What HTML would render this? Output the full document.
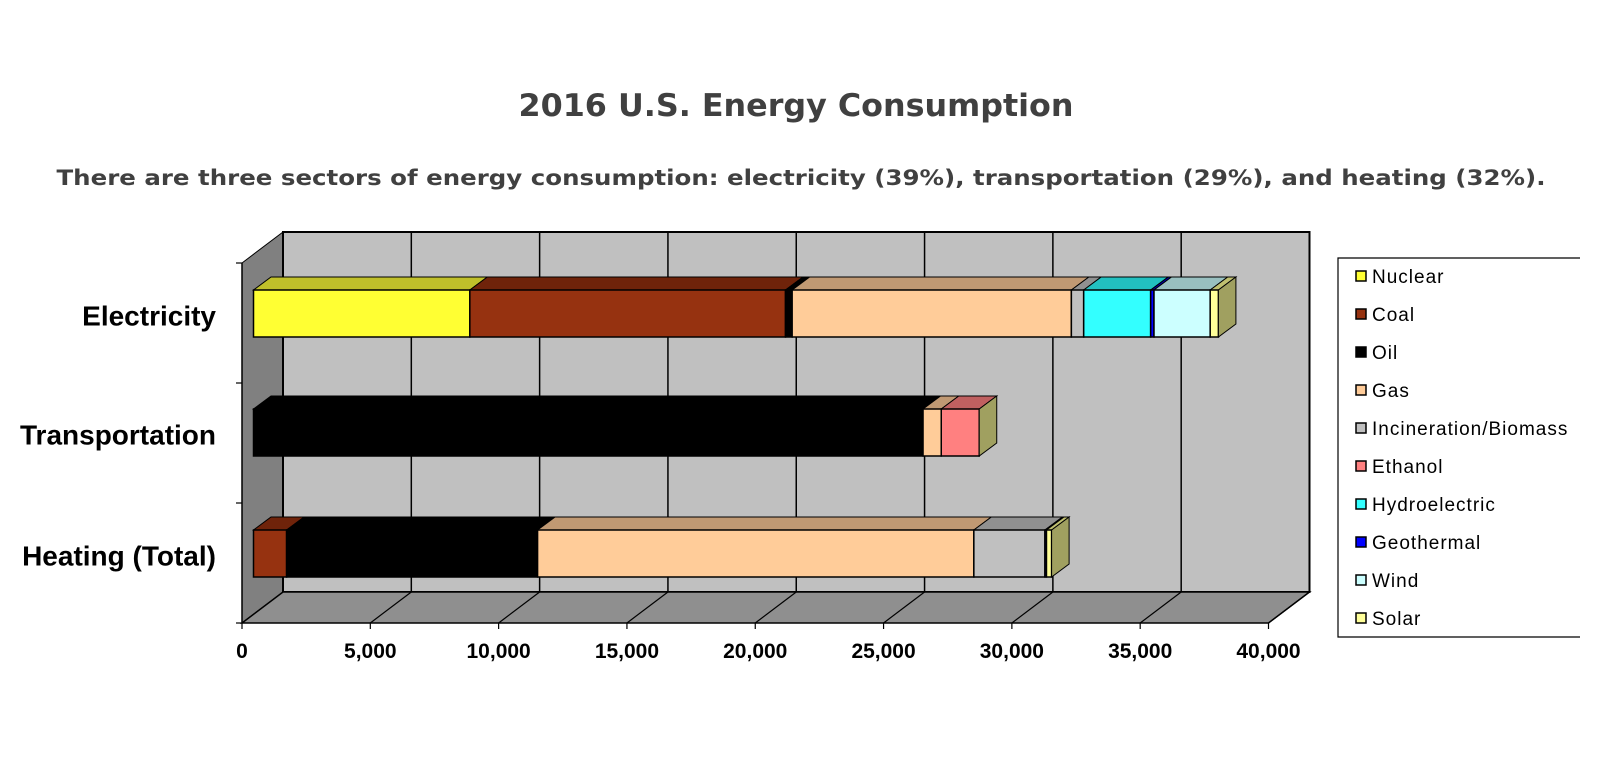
<!DOCTYPE html>
<html><head><meta charset="utf-8"><style>
html,body{margin:0;padding:0;background:#fff;}
svg{display:block;}
</style></head><body>
<svg id="chart" width="1610" height="784" xmlns="http://www.w3.org/2000/svg">
<text x="796" y="116" text-anchor="middle" font-family="DejaVu Sans, sans-serif" font-weight="bold" font-size="31" fill="#404040" textLength="555" lengthAdjust="spacingAndGlyphs">2016 U.S. Energy Consumption</text>
<text x="801" y="185" text-anchor="middle" font-family="DejaVu Sans, sans-serif" font-weight="bold" font-size="21" fill="#404040" textLength="1489" lengthAdjust="spacingAndGlyphs">There are three sectors of energy consumption: electricity (39%), transportation (29%), and heating (32%).</text>
<g id="plot"></g>
<g id="legend"></g>
</svg>
<script>
const categories = ["Electricity","Transportation","Heating (Total)"];
const seriesNames = ["Nuclear","Coal","Oil","Gas","Incineration/Biomass","Ethanol","Hydroelectric","Geothermal","Wind","Solar"];
const nuclear = [8430, 0, 0];
const coal = [12300, 0, 1290];
const oil = [260, 26090, 9780];
const gas = [10880, 710, 17000];
const biomass = [480, 0, 2770];
const ethanol = [0, 1480, 0];
const hydro = [2610, 0, 0];
const geothermal = [130, 0, 60];
const wind = [2190, 0, 0];
const solar = [320, 0, 200];
const xTicks = [0,5000,10000,15000,20000,25000,30000,35000,40000];
const xTickLabels = ["0","5,000","10,000","15,000","20,000","25,000","30,000","35,000","40,000"];

const series = [nuclear,coal,oil,gas,biomass,ethanol,hydro,geothermal,wind,solar];
const fronts = ["#ffff33","#963210","#000000","#ffcc99","#c0c0c0","#ff8080","#33ffff","#0000ff","#ccffff","#ffff99"];
const tops = ["#c0c02a","#6f230a","#000000","#c09973","#909090","#c06060","#22c0c0","#0000b0","#99c0c0","#c0c070"];

const NS="http://www.w3.org/2000/svg";
const plot=document.getElementById('plot');
function mk(tag,attrs,parent){const e=document.createElementNS(NS,tag);for(const k in attrs)e.setAttribute(k,attrs[k]);(parent||plot).appendChild(e);return e;}
const X0=242, PX=1026.5/40000, DX=41, DY=31, YB=623, YT=263;
function xs(v){return X0+v*PX;}
const catTop=[290,409,530], catH=47;

let e;
e=mk('polygon',{points:`${X0},${YT} ${X0+DX},${YT-DY} ${X0+DX},${YB-DY} ${X0},${YB}`,fill:'#808080',stroke:'#000','stroke-width':1});


e=mk('rect',{x:X0+DX,y:YT-DY,width:xs(40000)-X0,height:YB-YT,fill:'#c0c0c0',stroke:'#000','stroke-width':2});


e=mk('polygon',{points:`${X0},${YB} ${X0+DX},${YB-DY} ${xs(40000)+DX},${YB-DY} ${xs(40000)},${YB}`,fill:'#8f8f8f',stroke:'#000','stroke-width':1.5});


xTicks.forEach((t,i)=>{
  const x=xs(t);
  if(i>0&&i<xTicks.length-1){
    e=mk('line',{x1:x+DX,y1:YT-DY,x2:x+DX,y2:YB-DY,stroke:'#000','stroke-width':1.5});
    
    
  }
  if(i>0){
    e=mk('line',{x1:x,y1:YB,x2:x+DX,y2:YB-DY,stroke:'#000','stroke-width':1.2});
    
    
  }
  e=mk('line',{x1:x,y1:YB,x2:x,y2:YB+6,stroke:'#000','stroke-width':1.2});
  
  
  e=mk('text',{x:x,y:658,'text-anchor':'middle','font-family':'Liberation Sans, sans-serif','font-weight':'bold','font-size':21,fill:'#000'});
  e.textContent=xTickLabels[i];
  
  
});
mk('line',{x1:X0,y1:YT,x2:X0,y2:YB,stroke:'#000','stroke-width':1.5});
[263,383,503,623].forEach(y=>{e=mk('line',{x1:X0-6,y1:y,x2:X0,y2:y,stroke:'#000','stroke-width':1.2});

});

const BX=11.5, bdx=17.5, bdy=13;
categories.forEach((c,ci)=>{
  const y0=catTop[ci];
  e=mk('text',{x:216,y:y0+catH/2+12,'text-anchor':'end','font-family':'Liberation Sans, sans-serif','font-weight':'bold','font-size':28,fill:'#000'});
  e.textContent=c;
  
  
  let cum=0, last=-1;
  series.forEach((s,si)=>{if(s[ci]>0)last=si;});
  series.forEach((s,si)=>{
    const v=s[ci]; if(!(v>0))return;
    const xa=X0+BX+cum*PX, xb=X0+BX+(cum+v)*PX;
    e=mk('polygon',{points:`${xa},${y0} ${xa+bdx},${y0-bdy} ${xb+bdx},${y0-bdy} ${xb},${y0}`,fill:tops[si],stroke:'#000','stroke-width':1});
    
    
    e=mk('rect',{x:xa,y:y0,width:xb-xa,height:catH,fill:fronts[si],stroke:'#000','stroke-width':1.5});
    
    
    if(si===last){
      e=mk('polygon',{points:`${xb},${y0} ${xb+bdx},${y0-bdy} ${xb+bdx},${y0+catH-bdy} ${xb},${y0+catH}`,fill:'#a0a060',stroke:'#000','stroke-width':1});
      
      
    }
    cum+=v;
  });
});

const lg=document.getElementById('legend');
e=mk('path',{d:'M1580,258 L1338,258 L1338,637 L1580,637',fill:'#fff',stroke:'#000','stroke-width':1.2},lg);


seriesNames.forEach((n,i)=>{
  const y=276+i*38;
  const g=mk('g',{},lg);
  
  
  mk('rect',{x:1356,y:y-5,width:10,height:10,fill:fronts[i],stroke:'#000','stroke-width':1.5},g);
  const t=mk('text',{x:1372,y:y+7,'font-family':'Liberation Sans, sans-serif','font-size':19,'letter-spacing':1,fill:'#000'},g);
  t.textContent=n;
});
</script>
</body></html>
